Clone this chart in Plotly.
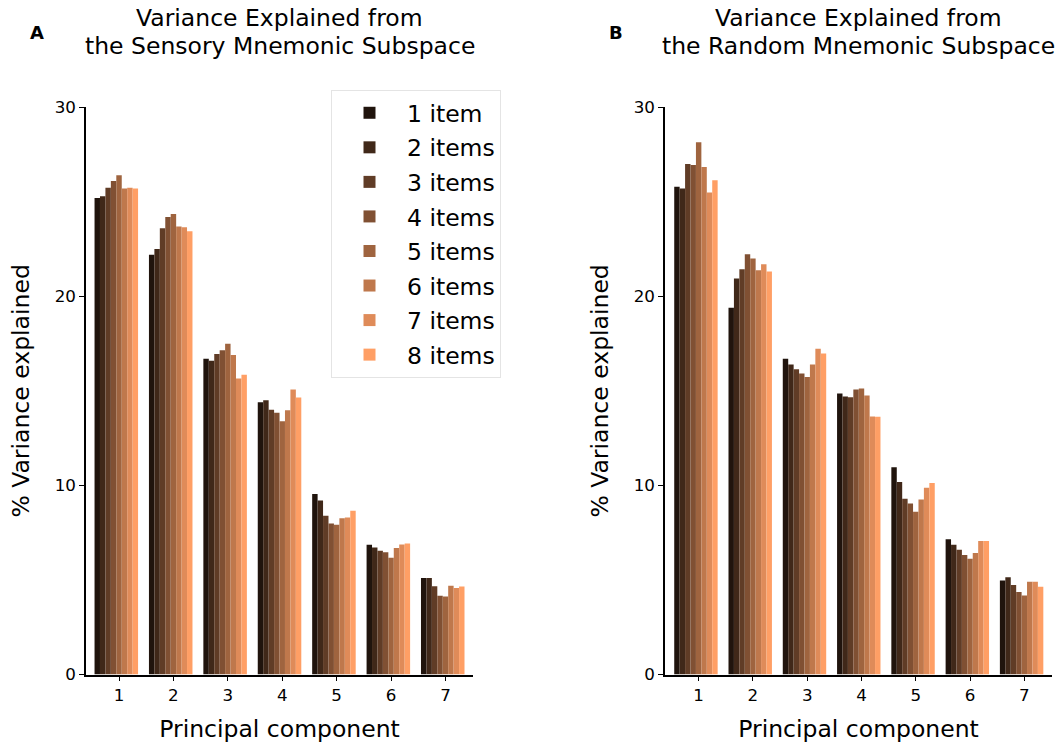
import plotly.graph_objects as go

pcs = [1, 2, 3, 4, 5, 6, 7]
item_labels = ["1 item", "2 items", "3 items", "4 items", "5 items", "6 items", "7 items", "8 items"]

# % variance explained, rows = number of items (1..8), columns = PC 1..7
sensory = [
    [25.2, 22.2, 16.7, 14.4, 9.55, 6.86, 5.1],
    [25.3, 22.5, 16.6, 14.5, 9.2, 6.72, 5.1],
    [25.75, 23.6, 16.95, 14.0, 8.4, 6.55, 4.67],
    [26.1, 24.2, 17.15, 13.85, 7.98, 6.47, 4.16],
    [26.4, 24.35, 17.5, 13.4, 7.92, 6.17, 4.12],
    [25.7, 23.7, 16.9, 13.98, 8.26, 6.69, 4.69],
    [25.75, 23.65, 15.65, 15.08, 8.31, 6.88, 4.57],
    [25.7, 23.45, 15.85, 14.65, 8.66, 6.93, 4.65],
]
random_ = [
    [25.8, 19.4, 16.7, 14.86, 10.96, 7.16, 4.97],
    [25.7, 20.94, 16.4, 14.7, 10.18, 6.86, 5.15],
    [27.0, 21.44, 16.14, 14.67, 9.3, 6.6, 4.74],
    [26.95, 22.23, 15.92, 15.08, 9.04, 6.32, 4.37],
    [28.15, 22.0, 15.74, 15.13, 8.61, 6.12, 4.18],
    [26.84, 21.38, 16.39, 14.76, 9.25, 6.42, 4.9],
    [25.5, 21.7, 17.23, 13.65, 9.88, 7.06, 4.9],
    [26.14, 21.31, 16.98, 13.63, 10.13, 7.06, 4.64],
]

title_line1 = ["Variance Explained from", "Variance Explained from"]
title_line2 = ["the Sensory Mnemonic Subspace", "the Random Mnemonic Subspace"]
panel_letters = ["A", "B"]


def copper(x):
    r = min(1.0, 1.25 * x)
    g = 0.7812 * x
    b = 0.4975 * x
    return "rgb(%d,%d,%d)" % (round(r * 255), round(g * 255), round(b * 255))


colors = [copper(0.1 * (i + 1)) for i in range(8)]

FONT = "DejaVu Sans"
W, H = 1060, 746

fig = go.Figure()
for p, data in enumerate([sensory, random_]):
    xa = "x" if p == 0 else "x2"
    ya = "y" if p == 0 else "y2"
    for i, vals in enumerate(data):
        fig.add_trace(go.Bar(
            x=pcs, y=vals, name=item_labels[i],
            offset=-0.45 + 0.1 * i, width=0.1,
            marker=dict(color=colors[i], line=dict(width=0)),
            xaxis=xa, yaxis=ya,
            showlegend=(p == 0), legendgroup="g%d" % i,
        ))

y_dom = [1 - 674.5 / H, 1 - 107.3 / H]
x_dom1 = [86 / W, 473 / W]
x_dom2 = [665 / W, 1052 / W]

axis_common = dict(
    showline=True, linecolor="black", linewidth=1.5,
    ticks="outside", ticklen=5, tickwidth=1.2, tickcolor="black",
    showgrid=False, zeroline=False, automargin=False,
    tickfont=dict(family=FONT, size=16.7, color="black"),
)

fig.update_layout(
    width=W, height=H,
    margin=dict(l=0, r=0, t=0, b=0, autoexpand=False),
    plot_bgcolor="white", paper_bgcolor="white",
    barmode="overlay",
    font=dict(family=FONT, color="black"),
    xaxis=dict(domain=x_dom1, range=[0.393, 7.506], tickvals=pcs, anchor="y",
               title=dict(text="Principal component", font=dict(family=FONT, size=23.5), standoff=16),
               **axis_common),
    yaxis=dict(domain=y_dom, range=[0, 30], tickvals=[0, 10, 20, 30], anchor="x",
               title=dict(text="% Variance explained", font=dict(family=FONT, size=23.5), standoff=18),
               **axis_common),
    xaxis2=dict(domain=x_dom2, range=[0.38, 7.51], tickvals=pcs, anchor="y2",
                title=dict(text="Principal component", font=dict(family=FONT, size=23.5), standoff=16),
                **axis_common),
    yaxis2=dict(domain=y_dom, range=[0, 30], tickvals=[0, 10, 20, 30], anchor="x2",
                title=dict(text="% Variance explained", font=dict(family=FONT, size=23.5), standoff=18),
                **axis_common),
    legend=dict(
        x=331 / W, y=1 - 90 / H, xanchor="left", yanchor="top",
        bgcolor="white", bordercolor="#e4e4e4", borderwidth=1,
        font=dict(family=FONT, size=23.5, color="black"),
        itemwidth=65, tracegroupgap=1,
    ),
)

for p in range(2):
    dom = x_dom1 if p == 0 else x_dom2
    cx = (dom[0] + dom[1]) / 2
    for line, ypx in ((title_line1[p], 18), (title_line2[p], 46)):
        fig.add_annotation(
            text=line, xref="paper", yref="paper",
            x=cx, y=1 - ypx / H, xanchor="center", yanchor="middle",
            showarrow=False, font=dict(family=FONT, size=23.5, color="black"),
        )
    fig.add_annotation(
        text="<b>%s</b>" % panel_letters[p], xref="paper", yref="paper",
        x=(37 if p == 0 else 616) / W, y=1 - 32 / H, xanchor="center", yanchor="middle",
        showarrow=False, font=dict(family=FONT, size=18, color="black"),
    )

fig.write_html("out.html", config={"displayModeBar": False},
               post_script="document.body.style.margin='0';")
